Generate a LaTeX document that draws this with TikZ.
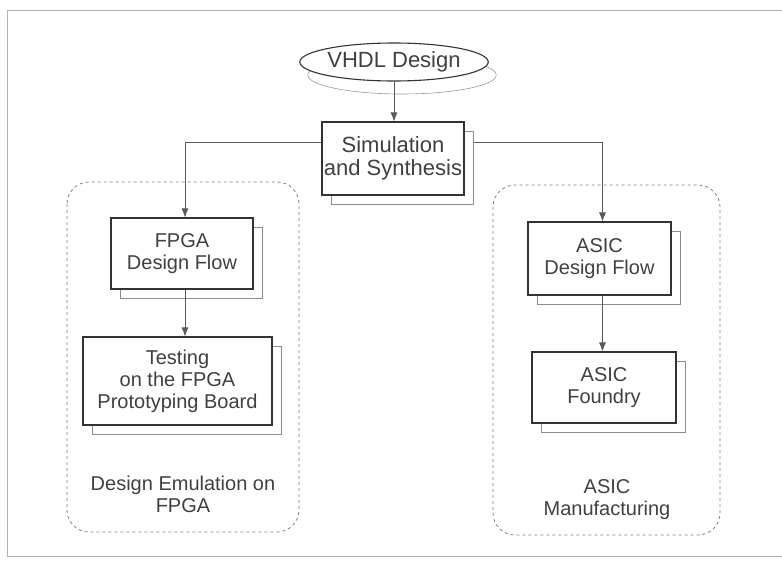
\documentclass[tikz,border=0pt]{standalone}
\usepackage{fontspec}
\setmainfont{Liberation Sans}
\usepackage{tikz}
\usetikzlibrary{positioning}
\usetikzlibrary{shapes.geometric}
\usetikzlibrary{shadows}
\usetikzlibrary{arrows.meta}

\tikzset{
    flowbox/.style={rectangle, draw=black!80, line width=1.1pt, fill=white, align=center,
        text=black!75, inner sep=0pt,
        copy shadow={shadow xshift=9pt, shadow yshift=-9pt, fill=white, draw=black!45, line width=0.6pt}},
    grouplabel/.style={align=center, text=black!75, inner sep=0pt},
    groupframe/.style={draw=black!50, dashed, line width=0.8pt, rounded corners=22pt},
    flowline/.style={->, draw=black!65, line width=0.8pt},
    bigtext/.style={font=\fontsize{22}{23}\selectfont}
}

\begin{document}
\begin{tikzpicture}[x=1pt, y=-1pt, >={Latex[length=9pt,width=7pt]},
    every node/.style={font=\fontsize{20}{22}\selectfont}]

\useasboundingbox (0,0) rectangle (782,560);

% Faint page frame
\draw[black!30, line width=0.6pt] (782,10) -- (7,10) -- (7,556) -- (782,556);

% Group frames
\draw[groupframe] (67,182) rectangle (299,532);
\draw[groupframe] (493,185) rectangle (720,535);

% Design entry
\node[ellipse, draw=black!80, line width=1.1pt, fill=white, text=black!75, bigtext,
    minimum width=170pt, minimum height=38pt, inner sep=0pt,
    copy shadow={shadow xshift=8pt, shadow yshift=-13pt, fill=white, draw=black!40, line width=0.6pt}]
    (vhdl) at (394,62) {VHDL Design};

% Common stage
\node[flowbox, bigtext, minimum width=142pt, minimum height=73pt] (sim) at (393,158.5) {Simulation\\and Synthesis};

% FPGA branch
\node[flowbox, minimum width=142pt, minimum height=71pt] (fpga) at (182,253.5) {FPGA\\Design Flow};
\node[flowbox, minimum width=189pt, minimum height=88pt] (test) at (177.5,381) {Testing\\on the FPGA\\Prototyping Board};
\node[grouplabel] (emu) at (183,494) {Design Emulation on\\FPGA};

% ASIC branch
\node[flowbox, minimum width=143pt, minimum height=73pt] (asic) at (599.5,258.5) {ASIC\\Design Flow};
\node[flowbox, minimum width=144pt, minimum height=71pt] (foundry) at (604,387.5) {ASIC\\Foundry};
\node[grouplabel] (manuf) at (607,500) {ASIC\\Manufacturing};

% Connections
\draw[flowline] (vhdl.south) -- (vhdl.south |- sim.north);
\draw[flowline] ([yshift=16pt]sim.west) -| ([xshift=3pt]fpga.north);
\draw[flowline] ([xshift=9pt, yshift=16pt]sim.east) -| ([xshift=3pt]asic.north);
\draw[flowline] ([xshift=3pt]fpga.south) -- ([xshift=3pt]fpga.south |- test.north);
\draw[flowline] ([xshift=3pt]asic.south) -- ([xshift=3pt]asic.south |- foundry.north);

\end{tikzpicture}
\end{document}
